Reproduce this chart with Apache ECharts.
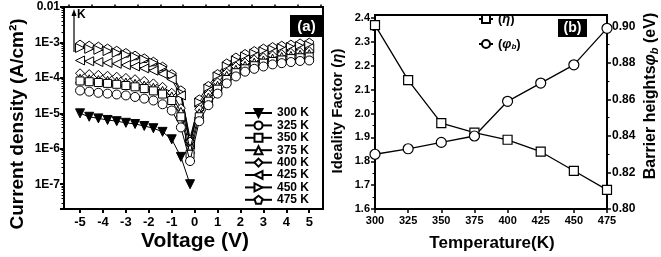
<!DOCTYPE html>
<html><head><meta charset="utf-8">
<script src="https://cdn.jsdelivr.net/npm/echarts@6/dist/echarts.min.js"></script>
<style>html,body{margin:0;padding:0;background:#fff}#c{width:661px;height:257px}</style>
</head><body><div id="c"></div>
<script>
// ---------- Panel (a) data ----------
const voltage = [-5.0,-4.6,-4.2,-3.8,-3.4,-3.0,-2.6,-2.2,-1.8,-1.4,-1.0,-0.6,-0.2,
                 0.2,0.6,1.0,1.4,1.8,2.2,2.6,3.0,3.4,3.8,4.2,4.6,5.0];
const j300 = [1.0e-5,8.0e-6,7.2e-6,6.5e-6,6.0e-6,5.4e-6,5.0e-6,4.4e-6,3.8e-6,3.0e-6,1.85e-6,5.9e-7,1.0e-7];
const j325 = [4.4e-5,4.1e-5,3.8e-5,3.6e-5,3.4e-5,3.2e-5,2.9e-5,2.6e-5,2.3e-5,1.8e-5,1.2e-5,4.0e-6,4.5e-7,
              6.0e-6,1.7e-5,3.6e-5,7.0e-5,1.1e-4,1.5e-4,1.8e-4,2.1e-4,2.4e-4,2.6e-4,2.8e-4,3.0e-4,3.1e-4];
const j350 = [8.2e-5,7.8e-5,7.4e-5,7.0e-5,6.6e-5,6.1e-5,5.6e-5,5.0e-5,4.3e-5,3.5e-5,2.3e-5,8.0e-6,7.0e-7,
              8.0e-6,2.2e-5,4.8e-5,9.0e-5,1.4e-4,1.8e-4,2.2e-4,2.6e-4,2.9e-4,3.2e-4,3.5e-4,3.7e-4,3.9e-4];
const j375 = [9.5e-5,9.1e-5,8.7e-5,8.3e-5,7.9e-5,7.4e-5,6.8e-5,6.1e-5,5.3e-5,4.3e-5,3.0e-5,1.1e-5,1.0e-6,
              1.0e-5,2.8e-5,6.0e-5,1.15e-4,1.7e-4,2.2e-4,2.7e-4,3.1e-4,3.5e-4,3.9e-4,4.2e-4,4.5e-4,4.7e-4];
const j400 = [1.35e-4,1.28e-4,1.22e-4,1.15e-4,1.08e-4,1.0e-4,9.2e-5,8.2e-5,7.0e-5,5.6e-5,3.8e-5,1.4e-5,1.6e-6,
              1.3e-5,3.5e-5,7.5e-5,1.4e-4,2.1e-4,2.7e-4,3.3e-4,3.8e-4,4.3e-4,4.7e-4,5.1e-4,5.4e-4,5.7e-4];
const j425 = [3.1e-4,2.95e-4,2.8e-4,2.65e-4,2.5e-4,2.3e-4,2.1e-4,1.85e-4,1.6e-4,1.3e-4,9.0e-5,3.2e-5,1.3e-6,
              1.6e-5,4.2e-5,9.0e-5,1.7e-4,2.5e-4,3.3e-4,4.0e-4,4.6e-4,5.2e-4,5.7e-4,6.1e-4,6.5e-4,6.9e-4];
const j450 = [7.0e-4,6.6e-4,6.2e-4,5.7e-4,5.1e-4,4.5e-4,3.9e-4,3.3e-4,2.7e-4,2.0e-4,1.2e-4,3.8e-5,2.0e-6,
              2.0e-5,5.0e-5,1.1e-4,2.1e-4,3.1e-4,4.0e-4,4.8e-4,5.6e-4,6.3e-4,6.9e-4,7.4e-4,7.9e-4,8.3e-4];
const j475 = [8.8e-4,8.2e-4,7.7e-4,6.8e-4,5.9e-4,5.1e-4,4.3e-4,3.6e-4,2.9e-4,2.1e-4,1.3e-4,4.5e-5,1.5e-6,
              2.5e-5,6.0e-5,1.3e-4,2.6e-4,3.8e-4,4.8e-4,5.8e-4,6.8e-4,7.5e-4,8.2e-4,8.8e-4,9.5e-4,1.0e-3];
const seriesNamesA = ['300 K','325 K','350 K','375 K','400 K','425 K','450 K','475 K'];
const xTicksA = [-5,-4,-3,-2,-1,0,1,2,3,4,5];
const xMinorTicksA = [-5.5,-4.5,-3.5,-2.5,-1.5,-0.5,0.5,1.5,2.5,3.5,4.5,5.5];

// ---------- Panel (b) data ----------
const temperature = [300,325,350,375,400,425,450,475];
const idealityFactor = [2.37,2.14,1.96,1.92,1.89,1.84,1.76,1.68];
const barrierHeight = [0.830,0.833,0.8365,0.840,0.859,0.869,0.879,0.899];
const yTicksBLeft = [1.6,1.7,1.8,1.9,2.0,2.1,2.2,2.3,2.4];
const yMinorBLeft = [1.65,1.75,1.85,1.95,2.05,2.15,2.25,2.35];
const yTicksBRight = [0.80,0.82,0.84,0.86,0.88,0.90];
const yMinorBRight = [0.81,0.83,0.85,0.87,0.89];

const FONT = "'Liberation Sans', Arial, sans-serif";
const chart = echarts.init(document.getElementById('c'), null, {renderer: 'canvas'});

const jSets = [j300,j325,j350,j375,j400,j425,j450,j475];
const symbols = ['triangle','circle','rect','triangle','diamond','triangle','triangle',
  'path://M0,-1 L0.951,-0.309 L0.588,0.809 L-0.588,0.809 L-0.951,-0.309 Z'];
const rotates = [180,0,0,0,0,90,-90,0];

const logMin = 2e-8;
const minorLog = [];
for (let k = -8; k <= -3; k++) for (let m = 2; m <= 9; m++) {
  const v = m * Math.pow(10, k);
  if (v > logMin && v < 0.01) minorLog.push(Math.log10(v));
}

const seriesA = jSets.map((arr, si) => ({
  name: seriesNamesA[si], type: 'line', xAxisIndex: 0, yAxisIndex: 0,
  data: arr.map((j, i) => [voltage[i], j]),
  symbol: symbols[si], symbolRotate: rotates[si],
  symbolSize: si === 2 ? 8 : 9, symbolKeepAspect: true,
  lineStyle: {color: '#000', width: 1},
  itemStyle: {color: si === 0 ? '#000' : '#fff', borderColor: '#000', borderWidth: 1},
  z: 10 - si, animation: false
}));

const tickLabel = {color: '#000', fontFamily: FONT, fontWeight: 'bold', fontSize: 12};
const minorAxis = (extra) => Object.assign({type: 'value', axisLine: {show: false, onZero: false},
  axisLabel: {show: false}, splitLine: {show: false}}, extra);

const option = {
  animation: false,
  backgroundColor: '#fff',
  grid: [
    {left: 64, right: 338, top: 7, bottom: 48, show: true, borderColor: '#000', borderWidth: 2, containLabel: false},
    {left: 375, right: 54, top: 15, bottom: 48, show: true, borderColor: '#000', borderWidth: 2, containLabel: false}
  ],
  xAxis: [
    {type: 'value', gridIndex: 0, min: -5.7, max: 5.6,
     axisLine: {onZero: false, lineStyle: {color: '#000', width: 2}},
     axisTick: {customValues: xTicksA, length: 4, lineStyle: {color: '#000', width: 2}},
     axisLabel: Object.assign({customValues: xTicksA, margin: 7}, tickLabel, {fontSize: 13}),
     splitLine: {show: false}},
    minorAxis({gridIndex: 0, min: -5.7, max: 5.6,
     axisTick: {customValues: xMinorTicksA, length: 2.5, lineStyle: {color: '#000', width: 1.5}}}),
    {type: 'value', gridIndex: 1, min: 300, max: 475, interval: 25,
     axisLine: {onZero: false, lineStyle: {color: '#000', width: 2}},
     axisTick: {length: 4, lineStyle: {color: '#000', width: 1.5}},
     axisLabel: Object.assign({margin: 6}, tickLabel, {fontSize: 11}),
     splitLine: {show: false}}
  ],
  yAxis: [
    {type: 'log', gridIndex: 0, min: logMin, max: 0.01, logBase: 10,
     axisLine: {onZero: false, lineStyle: {color: '#000', width: 2}},
     axisTick: {length: 4, lineStyle: {color: '#000', width: 2}},
     axisLabel: Object.assign({margin: 4,
       formatter: v => {
         const l = Math.log10(v), e = Math.round(l);
         if (Math.abs(l - e) > 1e-6 || e < -7) return '';
         return e === -2 ? '0.01' : '1E' + e;
       }}, tickLabel),
     splitLine: {show: false}, minorSplitLine: {show: false}},
    minorAxis({gridIndex: 0, min: Math.log10(logMin), max: -2, position: 'left',
     axisTick: {customValues: minorLog, length: 2.5, lineStyle: {color: '#000', width: 1}}}),
    {type: 'value', gridIndex: 1, min: 1.6, max: 2.4126, position: 'left',
     axisLine: {onZero: false, lineStyle: {color: '#000', width: 2}},
     axisTick: {customValues: yTicksBLeft, length: 4, lineStyle: {color: '#000', width: 1.5}},
     axisLabel: Object.assign({customValues: yTicksBLeft, margin: 5,
       formatter: v => v.toFixed(1)}, tickLabel, {fontSize: 11}),
     splitLine: {show: false}},
    {type: 'value', gridIndex: 1, min: 0.80, max: 0.9063, position: 'right',
     axisLine: {onZero: false, lineStyle: {color: '#000', width: 2}},
     axisTick: {customValues: yTicksBRight, length: 4, lineStyle: {color: '#000', width: 1.5}},
     axisLabel: Object.assign({customValues: yTicksBRight, margin: 5,
       formatter: v => v.toFixed(2)}, tickLabel),
     splitLine: {show: false}},
    minorAxis({gridIndex: 1, min: 1.6, max: 2.4126, position: 'left',
     axisTick: {customValues: yMinorBLeft, length: 2.5, lineStyle: {color: '#000', width: 1}}}),
    minorAxis({gridIndex: 1, min: 0.80, max: 0.9063, position: 'right',
     axisTick: {customValues: yMinorBRight, length: 2.5, lineStyle: {color: '#000', width: 1}}})
  ],
  legend: [
    {data: seriesNamesA, orient: 'vertical', left: 244, top: 107,
     itemWidth: 27, itemHeight: 10, itemGap: 0.4, padding: 0,
     textStyle: {fontFamily: FONT, fontWeight: 'bold', fontSize: 12, lineHeight: 12, color: '#000'},
     selectedMode: false},
    {data: ['eta','phi'], orient: 'vertical', left: 478, top: 12,
     itemWidth: 14, itemHeight: 10, itemGap: 11, padding: 0, selectedMode: false,
     formatter: n => n === 'eta' ? '({i|η})' : '({i|φ}{s|b})',
     textStyle: {fontFamily: FONT, fontWeight: 'bold', fontSize: 13, lineHeight: 14, color: '#000',
       rich: {i: {fontFamily: FONT, fontWeight: 'bold', fontStyle: 'italic', fontSize: 13},
              s: {fontFamily: FONT, fontWeight: 'bold', fontStyle: 'italic', fontSize: 8, padding: [6,0,0,0]}}}}
  ],
  series: seriesA.concat([
    {name: 'eta', type: 'line', xAxisIndex: 2, yAxisIndex: 2,
     data: temperature.map((t, i) => [t, idealityFactor[i]]),
     symbol: 'rect', symbolSize: 9,
     lineStyle: {color: '#000', width: 1.3},
     itemStyle: {color: '#fff', borderColor: '#000', borderWidth: 1.2}},
    {name: 'phi', type: 'line', xAxisIndex: 2, yAxisIndex: 3,
     data: temperature.map((t, i) => [t, barrierHeight[i]]),
     symbol: 'circle', symbolSize: 10,
     lineStyle: {color: '#000', width: 1.3},
     itemStyle: {color: '#fff', borderColor: '#000', borderWidth: 1.2}}
  ]),
  graphic: [
    {type: 'rect', shape: {x: 290, y: 15, width: 33, height: 22}, style: {fill: '#000'}},
    {type: 'text', x: 306.5, y: 26.5, style: {text: '(a)', fill: '#fff', font: 'bold 15px ' + FONT,
      align: 'center', verticalAlign: 'middle', textAlign: 'center', textVerticalAlign: 'middle'}},
    {type: 'rect', shape: {x: 558, y: 19, width: 29, height: 18}, style: {fill: '#000'}},
    {type: 'text', x: 572.5, y: 28.5, style: {text: '(b)', fill: '#fff', font: 'bold 14px ' + FONT,
      align: 'center', verticalAlign: 'middle', textAlign: 'center', textVerticalAlign: 'middle'}},
    {type: 'line', shape: {x1: 74, y1: 52, x2: 74, y2: 13}, style: {stroke: '#000', lineWidth: 1.2}},
    {type: 'polygon', shape: {points: [[71.5, 16], [74, 9], [76.5, 16]]}, style: {fill: '#000'}},
    {type: 'text', x: 77, y: 9, style: {text: 'K', fill: '#000', font: 'bold 12px ' + FONT,
      align: 'left', verticalAlign: 'top', textAlign: 'left', textVerticalAlign: 'top'}},
    {type: 'text', x: 18, y: 124, rotation: Math.PI / 2,
     style: {text: 'Current density (A/cm²)', fill: '#000', font: 'bold 19px ' + FONT,
      align: 'center', verticalAlign: 'middle', textAlign: 'center', textVerticalAlign: 'middle'}},
    {type: 'text', x: 195, y: 241,
     style: {text: 'Voltage (V)', fill: '#000', font: 'bold 21px ' + FONT,
      align: 'center', verticalAlign: 'middle', textAlign: 'center', textVerticalAlign: 'middle'}},
    {type: 'text', x: 492, y: 243,
     style: {text: 'Temperature(K)', fill: '#000', font: 'bold 17px ' + FONT,
      align: 'center', verticalAlign: 'middle', textAlign: 'center', textVerticalAlign: 'middle'}},
    {type: 'text', x: 338, y: 111, rotation: Math.PI / 2,
     style: {text: 'Ideality Factor ({i|η})', fill: '#000', font: 'bold 15px ' + FONT,
      align: 'center', verticalAlign: 'middle', textAlign: 'center', textVerticalAlign: 'middle',
      rich: {i: {font: 'italic bold 15px ' + FONT, fill: '#000'}}}},
    {type: 'text', x: 651, y: 96, rotation: Math.PI / 2,
     style: {text: 'Barrier heights{i|φ}{s|b} (eV)', fill: '#000', font: 'bold 16px ' + FONT,
      align: 'center', verticalAlign: 'middle', textAlign: 'center', textVerticalAlign: 'middle',
      rich: {i: {font: 'italic bold 16px ' + FONT, fill: '#000'},
             s: {font: 'italic bold 11px ' + FONT, fill: '#000', padding: [7, 0, 0, 0]}}}}
  ]
};
chart.setOption(option);
</script></body></html>
